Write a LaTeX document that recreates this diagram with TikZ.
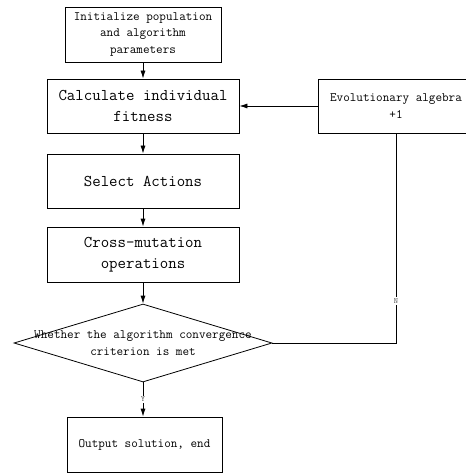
\documentclass[tikz,border=0pt]{standalone}
\usetikzlibrary{arrows.meta,shapes.geometric}

\begin{document}
\begin{tikzpicture}[x=1pt,y=-1pt,font=\ttfamily,
	bigbox/.style={draw,line width=0.8pt,minimum width=192pt,minimum height=54pt,align=center,font=\ttfamily\fontsize{16.4}{21}\selectfont},
	smallbox/.style={draw,line width=0.8pt,minimum width=156pt,minimum height=55pt,align=center,font=\ttfamily\fontsize{12.8}{16.5}\selectfont},
	decision/.style={draw,diamond,line width=0.8pt,minimum width=258pt,minimum height=78pt,inner sep=0pt},
	flow/.style={line width=0.8pt,-{Latex[length=8pt,width=5pt]}},
	tag/.style={fill=white,inner sep=1.5pt,text=black!65,font=\ttfamily\fontsize{8}{9}\selectfont}]
	\useasboundingbox (0,0) rectangle (465,473);
	\node[smallbox] (init) at (143,34.5) {Initialize population\\and algorithm\\parameters};
	\node[bigbox] (calc) at (143,106) {Calculate individual\\fitness};
	\node[bigbox] (sel) at (143,181) {Select Actions};
	\node[bigbox,minimum height=55pt] (cross) at (143,254.5) {Cross-mutation\\operations};
	\node[decision] (dec) at (143,343) {};
	\node[align=center,font=\ttfamily\fontsize{12.8}{16.5}\selectfont] (dectext) at (dec.center) {Whether the algorithm convergence\\criterion is met};
	\node[smallbox,minimum width=155pt,minimum height=55pt] (out) at (144.5,444.5) {Output solution, end};
	\node[smallbox,minimum height=54pt] (evol) at (396,106) {Evolutionary algebra\\+1};
	\draw[flow] (init) -- (calc);
	\draw[flow] (calc) -- (sel);
	\draw[flow] (sel) -- (cross);
	\draw[flow] (cross) -- (dec.north);
	\draw[flow] (dec.south) -- node[tag] {Y} (dec.south |- out.north);
	\draw[line width=0.8pt] (dec.east) -- (evol.south |- dec.east) -- node[tag,pos=0.2] {N} (evol.south);
	\draw[flow] (evol.west) -- (calc.east);
\end{tikzpicture}
\end{document}
